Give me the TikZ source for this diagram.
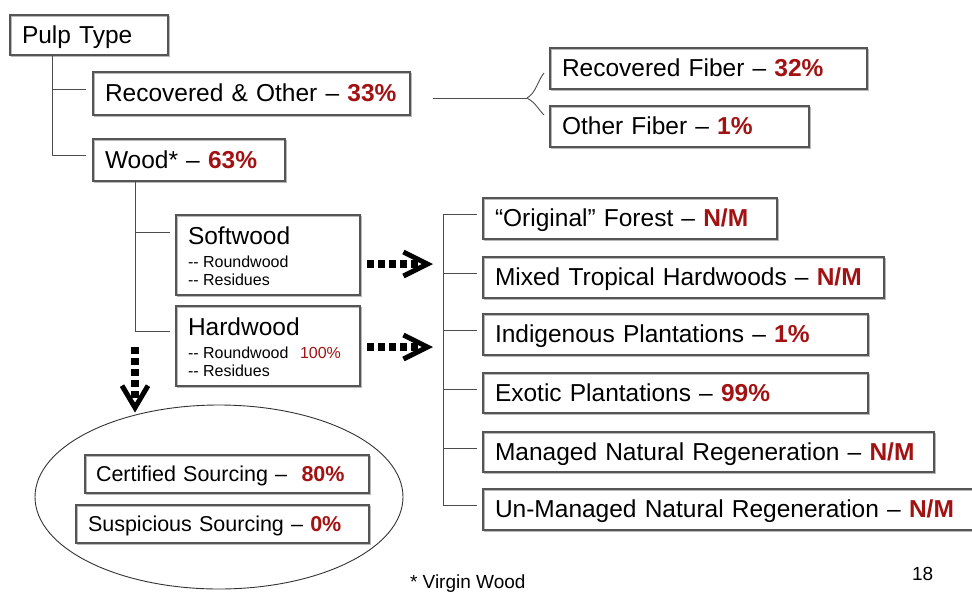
\documentclass[tikz,border=0pt]{standalone}
\usepackage{fontspec}
\setmainfont{Liberation Sans}
\usetikzlibrary{arrows.meta,calc,shapes.geometric}
\definecolor{valred}{RGB}{163,18,18}
\definecolor{boxline}{RGB}{85,85,85}
\newcommand{\val}[1]{\textcolor{valred}{\bfseries #1}}
\begin{document}
\begin{tikzpicture}[x=1pt,y=-1pt,
  box/.style={draw=boxline, line width=1.3pt, rectangle, anchor=north west, outer sep=0pt,
    preaction={draw=black!28, line width=1.3pt, transform canvas={shift={(1.2pt,-1.2pt)}}},
    inner xsep=12pt, inner ysep=0pt, align=left, font=\fontsize{24.5}{28}\selectfont,
    text height=17pt, text depth=1pt},
  sbox/.style={box, font=\fontsize{21.5}{25}\selectfont, text height=15pt, text depth=1pt},
  lbl/.style={anchor=base west, inner sep=0pt, outer sep=0pt},
  big/.style={font=\fontsize{24.5}{28}\selectfont},
  small/.style={font=\fontsize{16}{19}\selectfont},
  tree/.style={draw=black!70, line width=0.9pt},
  dotsH/.style={line width=8pt, dash pattern=on 7pt off 4pt,
    -{Straight Barb[length=24pt, width=24pt, line width=5pt]}},
  dotsV/.style={line width=8.5pt, dash pattern=on 7pt off 4pt,
    -{Straight Barb[length=22pt, width=26pt, line width=5pt]}}
]
\useasboundingbox (0,0) rectangle (972,592);

% left tree
\node[box, minimum width=158pt, minimum height=40pt, text width=134pt] (pulp) at (10,15) {Pulp Type};
\node[box, minimum width=317pt, minimum height=43pt, text width=293pt] (rec) at (93,72) {Recovered \& Other – \val{33\%}};
\node[box, minimum width=192pt, minimum height=42pt, text width=168pt] (wood) at (93,139) {Wood* – \val{63\%}};
\node[box, minimum width=184pt, minimum height=80pt] (soft) at (176,215) {};
\node[box, minimum width=184pt, minimum height=80pt] (hard) at (176,306) {};

\node[lbl, big] (softT) at (188,244) {Softwood};
\node[lbl, small] (softR) at (188,267) {-{}- Roundwood};
\node[lbl, small] (softS) at (188,285) {-{}- Residues};
\node[lbl, big] (hardT) at (188,335) {Hardwood};
\node[lbl, small] (hardR) at (188,358) {-{}- Roundwood};
\node[lbl, small, text=valred] (hardP) at (300,358) {100\%};
\node[lbl, small] (hardS) at (188,376) {-{}- Residues};

\draw[tree] ($(pulp.south west)+(42,0)$) |- ($(wood.west)+(-7,-5)$);
\draw[tree] ($(rec.west)+(-41,-4.5)$) -- ($(rec.west)+(-7,-4.5)$);
\draw[tree] ($(wood.south west)+(42,0)$) |- ($(hard.north west)+(-6,25)$);
\draw[tree] ($(soft.north west)+(-41,17)$) -- ($(soft.north west)+(-6,17)$);

% fibre split
\node[box, minimum width=317pt, minimum height=41pt, text width=293pt] (recfib) at (550,48) {Recovered Fiber – \val{32\%}};
\node[box, minimum width=259pt, minimum height=41pt, text width=235pt] (othfib) at (550,106) {Other Fiber – \val{1\%}};
\coordinate (bL) at ($(rec.east)+(23,4.5)$);
\coordinate (bT) at ($(recfib.west)+(-23,29.5)$);
\coordinate (bU) at ($(recfib.west)+(-6,4.5)$);
\coordinate (bD) at ($(othfib.west)+(-6,-11.5)$);
\draw[tree] (bL) -- (bT);
\draw[tree] (bT) .. controls (536,93) and (538,80) .. (bU);
\draw[tree] (bT) .. controls (536,103) and (538,109) .. (bD);

% forest types
\node[box, minimum width=294pt, minimum height=41pt, text width=270pt] (orig) at (483,198) {“Original” Forest – \val{N/M}};
\node[box, minimum width=401pt, minimum height=41pt, text width=377pt] (mixed) at (483,257) {Mixed Tropical Hardwoods – \val{N/M}};
\node[box, minimum width=385pt, minimum height=41pt, text width=361pt] (indig) at (483,314) {Indigenous Plantations – \val{1\%}};
\node[box, minimum width=385pt, minimum height=40pt, text width=361pt] (exotic) at (483,373) {Exotic Plantations – \val{99\%}};
\node[box, minimum width=451pt, minimum height=40pt, text width=427pt] (managed) at (483,432) {Managed Natural Regeneration – \val{N/M}};
\node[box, minimum width=495pt, minimum height=41pt, text width=471pt] (unman) at (483,489) {Un-Managed Natural Regeneration – \val{N/M}};

\draw[tree] ($(orig.west)+(-40,-4)$) -- ($(unman.west)+(-40,-4)$);
\foreach \n in {orig,mixed,indig,exotic,managed,unman}
  \draw[tree] ($(\n.west)+(-40,-4)$) -- ($(\n.west)+(-6,-4)$);

% dotted arrows
\coordinate (sA) at (433,264);
\coordinate (hA) at (433,347);
\draw[dotsH] ($(soft.east)+(7,9)$) -- (sA);
\draw[dotsH] ($(hard.east)+(7,1)$) -- (hA);

% sourcing ellipse
\node[draw=black!80, line width=0.9pt, ellipse, minimum width=368pt, minimum height=184pt, inner sep=0pt] (srcell) at (219,497) {};
\node[sbox, minimum width=284pt, minimum height=38pt, text width=262pt, inner xsep=11pt] (cert) at (85,455) {Certified Sourcing –\ \ \val{80\%}};
\node[sbox, minimum width=293pt, minimum height=38pt, text width=269pt] (susp) at (76,505) {Suspicious Sourcing – \val{0\%}};
\coordinate (dS) at ($(hard.south west)+(-41,-39)$);
\coordinate (dE) at ($(srcell.north)+(-84,8)$);
\draw[dotsV] (dS) -- (dE);

% footer
\node[lbl, font=\fontsize{19}{22}\selectfont] (vw) at (410,588) {* Virgin Wood};
\node[lbl, font=\fontsize{19}{22}\selectfont] (pg) at (912,580) {18};
\end{tikzpicture}
\end{document}
